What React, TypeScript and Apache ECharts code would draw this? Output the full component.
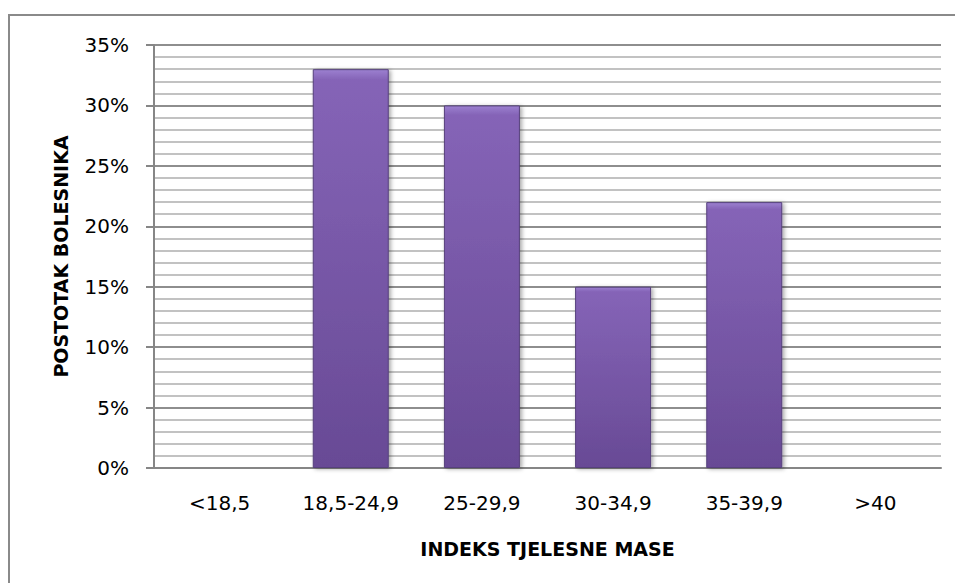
import React, { useEffect, useRef } from "react";
import * as echarts from "echarts";

const categories = ["<18,5", "18,5-24,9", "25-29,9", "30-34,9", "35-39,9", ">40"];
const values = [0, 33, 30, 15, 22, 0];
const yTitle = "POSTOTAK BOLESNIKA";
const xTitle = "INDEKS TJELESNE MASE";

export default function App() {
  const ref = useRef<HTMLDivElement>(null);
  useEffect(() => {
    if (!ref.current) return;
    const chart = echarts.init(ref.current, null, { renderer: "svg" });
    const font = "DejaVu Sans";
    chart.setOption({
      animation: false,
      backgroundColor: "#ffffff",
      graphic: [
        {
          type: "rect",
          shape: { x: 9, y: 15, width: 1000, height: 700 },
          style: { fill: "none", stroke: "#8a8a8a", lineWidth: 2 },
          silent: true,
          z: -1,
        },
      ],
      grid: { left: 154, right: 14, top: 45, bottom: 115, containLabel: false },
      xAxis: {
        type: "category",
        data: categories,
        axisLine: { lineStyle: { color: "#868686", width: 2 } },
        axisTick: { show: false },
        axisLabel: { color: "#000", fontFamily: font, fontSize: 20, margin: 25, interval: 0 },
        name: xTitle,
        nameLocation: "middle",
        nameGap: 71,
        nameTextStyle: { color: "#000", fontFamily: font, fontSize: 19, fontWeight: "bold" },
      },
      yAxis: {
        type: "value",
        min: 0,
        max: 35,
        interval: 5,
        axisLine: { show: true, lineStyle: { color: "#868686", width: 2 } },
        axisTick: { show: true, length: 8, lineStyle: { color: "#868686", width: 2 } },
        axisLabel: {
          color: "#000",
          fontFamily: font,
          fontSize: 20,
          margin: 25,
          formatter: (v: number) => v + "%",
        },
        splitLine: { show: true, lineStyle: { color: "#8e8e8e", width: 2 } },
        minorTick: { show: false, splitNumber: 5 },
        minorSplitLine: { show: true, lineStyle: { color: "#c2c2c2", width: 2 } },
        name: yTitle,
        nameLocation: "middle",
        nameGap: 84,
        nameTextStyle: { color: "#000", fontFamily: font, fontSize: 19, fontWeight: "bold" },
      },
      series: [
        {
          type: "bar",
          data: values,
          barWidth: 76,
          itemStyle: {
            color: new echarts.graphic.LinearGradient(0, 0, 0, 1, [
              { offset: 0, color: "#9c80d0" },
              { offset: 0.025, color: "#8564b7" },
              { offset: 1, color: "#684a95" },
            ]),
            borderColor: "#56407c",
            borderWidth: 1,
            shadowColor: "rgba(0,0,0,0.35)",
            shadowBlur: 4,
            shadowOffsetX: 2,
            shadowOffsetY: 1,
          },
        },
      ],
    });
    return () => chart.dispose();
  }, []);
  return (
    <div
      ref={ref}
      style={{ position: "absolute", left: 0, top: 0, width: 955, height: 583 }}
    />
  );
}
